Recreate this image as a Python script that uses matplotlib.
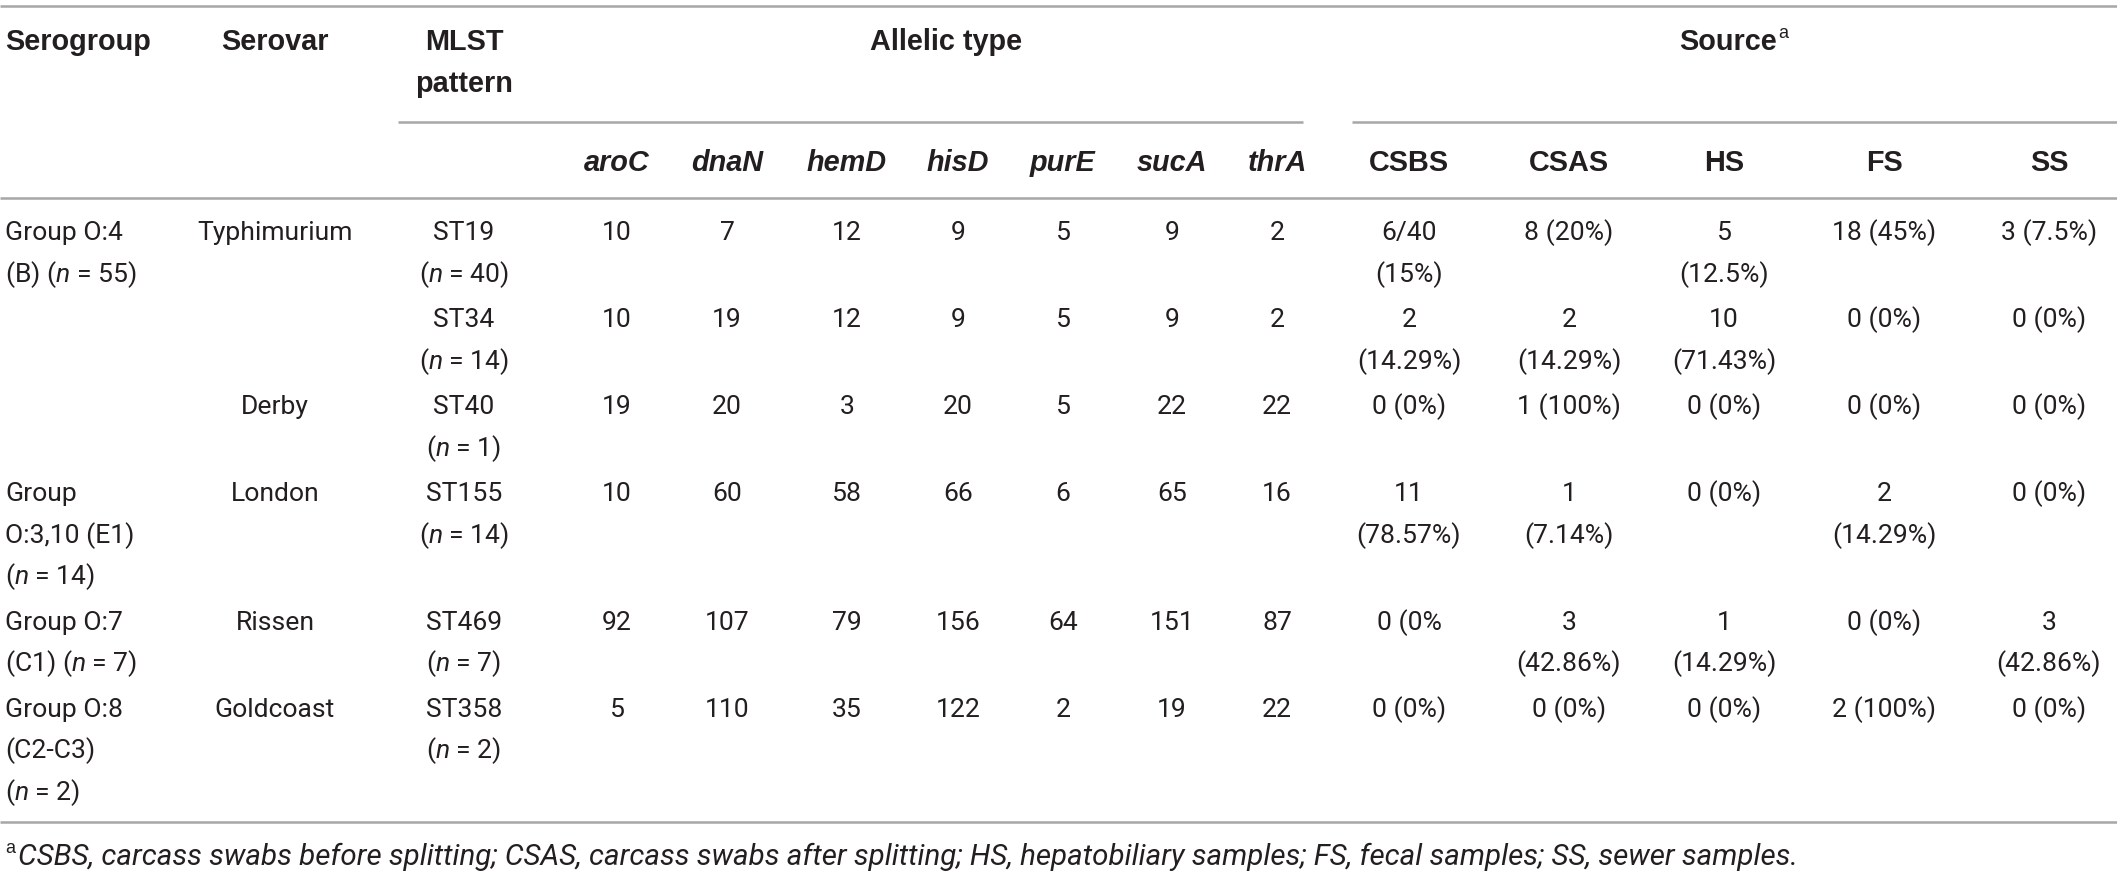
import matplotlib
matplotlib.use("Agg")
import matplotlib.pyplot as plt

# --- dados da tabela --------------------------------------------------------

serogroups = ["Group O:4\n(B) ($n$ = 55)", "", "",
              "Group\nO:3,10 (E1)\n($n$ = 14)",
              "Group O:7\n(C1) ($n$ = 7)",
              "Group O:8\n(C2-C3)\n($n$ = 2)"]
serovars = ["Typhimurium", "", "Derby", "London", "Rissen", "Goldcoast"]
mlst = ["ST19\n($n$ = 40)", "ST34\n($n$ = 14)", "ST40\n($n$ = 1)",
        "ST155\n($n$ = 14)", "ST469\n($n$ = 7)", "ST358\n($n$ = 2)"]

genes = ["aroC", "dnaN", "hemD", "hisD", "purE", "sucA", "thrA"]
aroC = [10, 10, 19, 10, 92, 5]
dnaN = [7, 19, 20, 60, 107, 110]
hemD = [12, 12, 3, 58, 79, 35]
hisD = [9, 9, 20, 66, 156, 122]
purE = [5, 5, 5, 6, 64, 2]
sucA = [9, 9, 22, 65, 151, 19]
thrA = [2, 2, 22, 16, 87, 22]
alleles = [aroC, dnaN, hemD, hisD, purE, sucA, thrA]

sources = ["CSBS", "CSAS", "HS", "FS", "SS"]
csbs = ["6/40\n(15%)", "2\n(14.29%)", "0 (0%)", "11\n(78.57%)", "0 (0%", "0 (0%)"]
csas = ["8 (20%)", "2\n(14.29%)", "1 (100%)", "1\n(7.14%)", "3\n(42.86%)", "0 (0%)"]
hs = ["5\n(12.5%)", "10\n(71.43%)", "0 (0%)", "0 (0%)", "1\n(14.29%)", "0 (0%)"]
fs = ["18 (45%)", "0 (0%)", "0 (0%)", "2\n(14.29%)", "0 (0%)", "2 (100%)"]
ss = ["3 (7.5%)", "0 (0%)", "0 (0%)", "0 (0%)", "3\n(42.86%)", "0 (0%)"]
source_vals = [csbs, csas, hs, fs, ss]

footnote = ("CSBS, carcass swabs before splitting; CSAS, carcass swabs after "
            "splitting; HS, hepatobiliary samples; FS, fecal samples; SS, sewer samples.")

# --- estilo -----------------------------------------------------------------

W, H = 2117, 871
TXT = "#231f20"
RULE = "#a7a7a7"

plt.rcParams["mathtext.fontset"] = "custom"
plt.rcParams["mathtext.it"] = "Roboto:italic"
plt.rcParams["mathtext.rm"] = "Roboto"

fig = plt.figure(figsize=(W / 100, H / 100), dpi=100)
ax = fig.add_axes([0, 0, 1, 1])
ax.set_xlim(0, W)
ax.set_ylim(H, 0)
ax.axis("off")
renderer = fig.canvas.get_renderer()


def fit_size(sample, target_px, **style):
    """Tamanho da fonte para que 'sample' tenha a largura vista na referência."""
    t = fig.text(0, 0, sample, size=20, **style)
    w = t.get_window_extent(renderer).width
    t.remove()
    return 20 * target_px / w


BODY = dict(family="Roboto", weight="normal", color=TXT)
BODY["size"] = fit_size("Typhimurium", 155, family="Roboto")
HEAD = dict(family="Liberation Sans", weight="bold", color=TXT)
HEAD["size"] = fit_size("Allelic type", 152, family="Liberation Sans", weight="bold")
FOOT = dict(family="Roboto", style="italic", color=TXT)
FOOT["size"] = fit_size("CSBS, carcass swabs before splitting;", 479,
                        family="Roboto", style="italic")

x_sero = 5
x_serovar = 275
x_mlst = 464
x_genes = [617, 727, 847, 958, 1063, 1172, 1277]
x_src = [1409, 1569, 1724, 1884, 2049]
pitch = 41.5


def cell(x, y, s, ha="center", **style):
    for i, line in enumerate(str(s).split("\n")):
        if line:
            ax.text(x, y + i * pitch, line, ha=ha, va="center", **style)


def rule(y, x0=0, x1=W):
    ax.plot([x0, x1], [y, y], color=RULE, lw=1.8, solid_capstyle="butt")


# --- cabeçalho --------------------------------------------------------------

rule(6)
cell(x_sero, 42, "Serogroup", ha="left", **HEAD)
cell(x_serovar, 42, "Serovar", **HEAD)
cell(x_mlst, 42, "MLST\npattern", **HEAD)
cell(946, 42, "Allelic type", **HEAD)
src = ax.text(1728, 42, "Source", ha="center", va="center", **HEAD)
bb = src.get_window_extent(renderer).transformed(ax.transData.inverted())
ax.text(bb.x1 + 1, 33, "a", ha="left", va="center", family="Liberation Sans",
        size=13, color=TXT)

rule(122, 398, 1303)
rule(122, 1352, W)
for x, g in zip(x_genes, genes):
    cell(x, 163, g, style="italic", **HEAD)
for x, s in zip(x_src, sources):
    cell(x, 163, s, **HEAD)
rule(198)

# --- linhas -----------------------------------------------------------------

y = 233
for r in range(len(serovars)):
    cell(x_sero, y, serogroups[r], ha="left", **BODY)
    cell(x_serovar, y, serovars[r], **BODY)
    cell(x_mlst, y, mlst[r], **BODY)
    for x, col in zip(x_genes, alleles):
        cell(x, y, col[r], **BODY)
    for x, col in zip(x_src, source_vals):
        cell(x, y, col[r], **BODY)
    nlines = max(len(c[r].split("\n")) for c in [serovars, mlst] + source_vals)
    if r == 3:
        nlines = max(nlines, len(serogroups[r].split("\n")))
    y += nlines * pitch + 4

rule(822)

ax.text(5, 848, "a", ha="left", va="center", family="Liberation Sans",
        size=13, color=TXT)
ax.text(18, 857, footnote, ha="left", va="center", **FOOT)

fig.savefig("out.png", dpi=100)
